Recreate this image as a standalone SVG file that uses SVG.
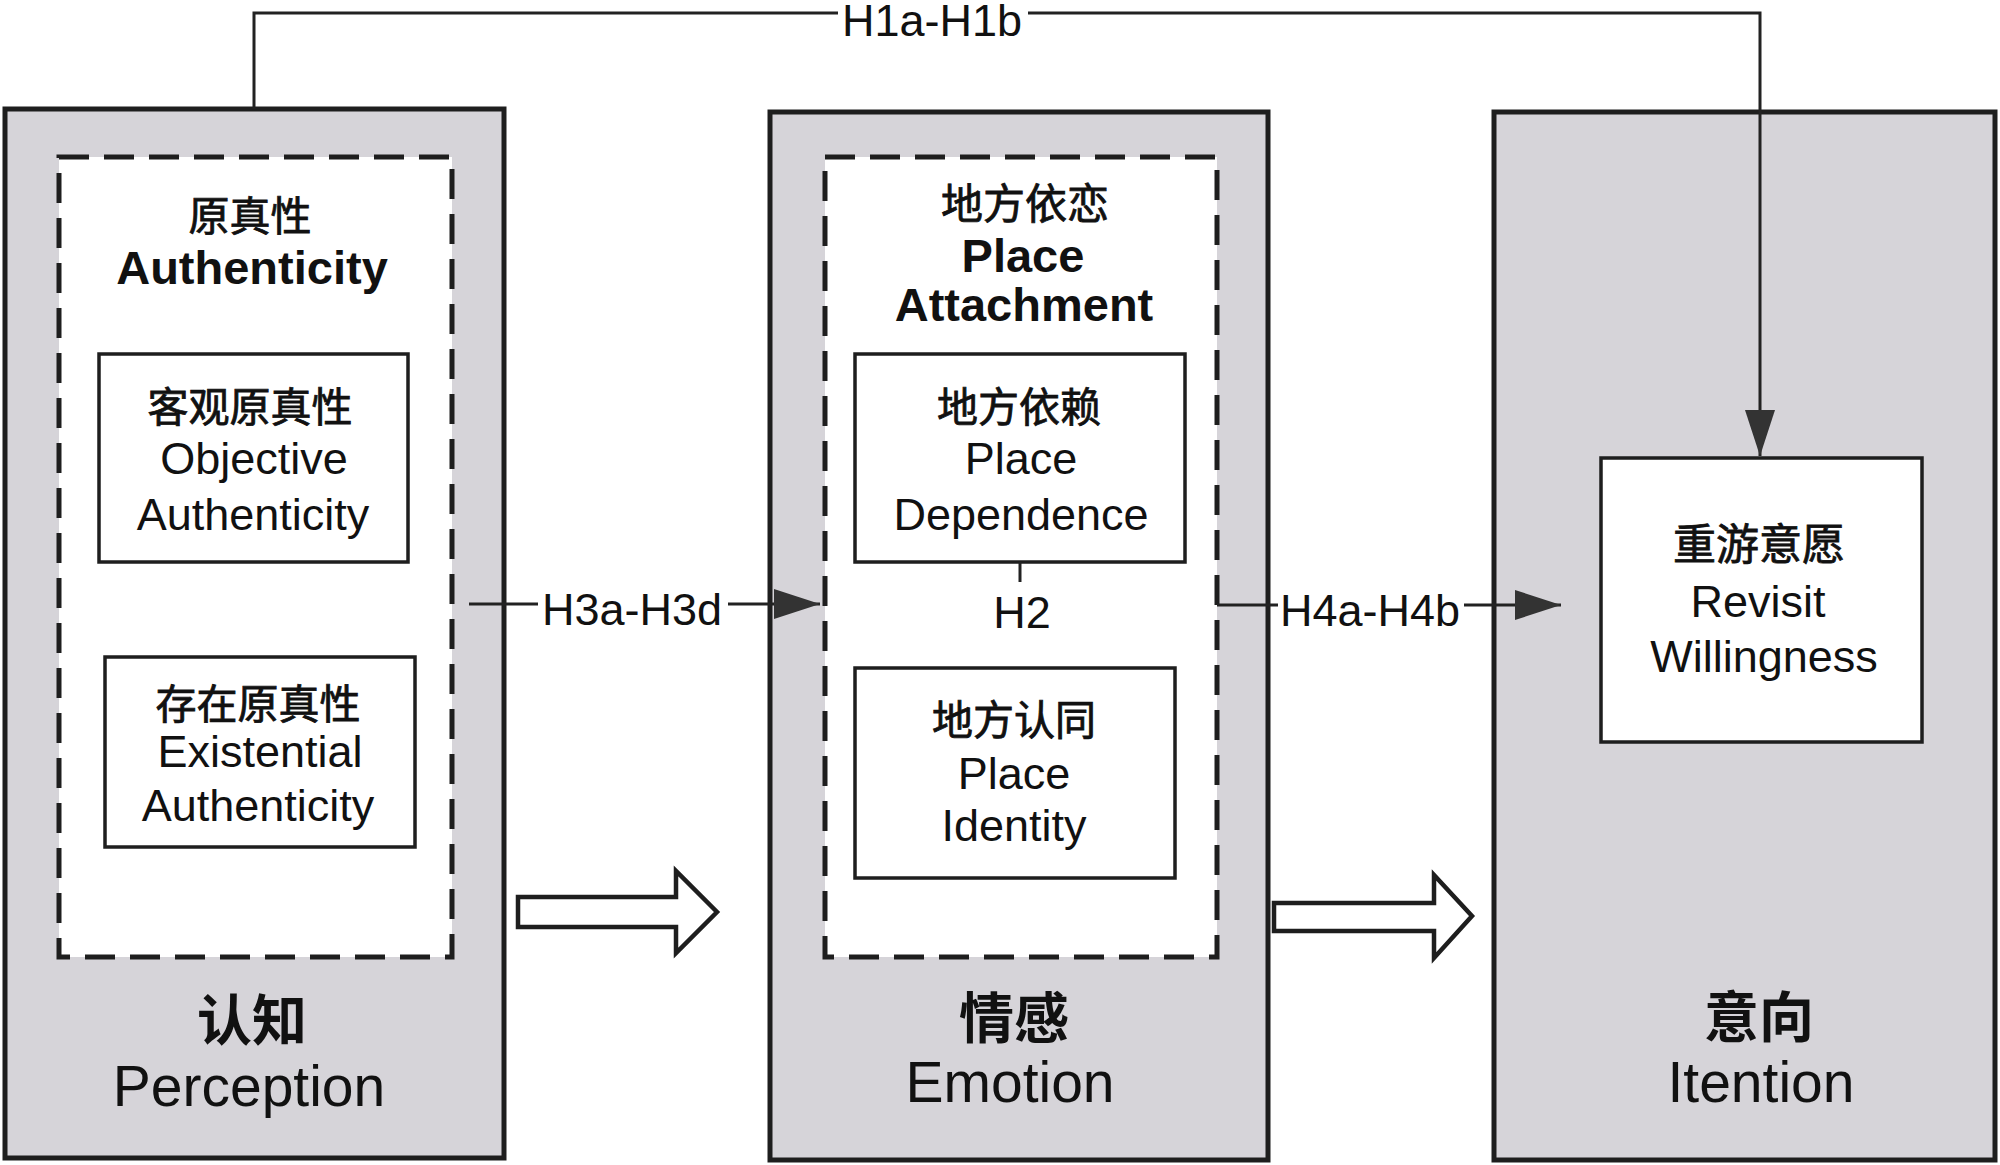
<svg xmlns="http://www.w3.org/2000/svg" width="2000" height="1165" viewBox="0 0 2000 1165">
<style>
.outer{fill:#d6d4d9;stroke:#1e1e1e;stroke-width:5}
.dash{fill:#ffffff;stroke:#1e1e1e;stroke-width:5;stroke-dasharray:30 15}
.inner{fill:#ffffff;stroke:#1e1e1e;stroke-width:3.5}
.line{fill:none;stroke:#222;stroke-width:3}
.block{fill:#ffffff;stroke:#1e1e1e;stroke-width:4.5;stroke-linejoin:miter}
text{font-family:"Liberation Sans","Noto Sans CJK SC",sans-serif;fill:#111;text-anchor:middle}
.cn{font-family:"Noto Sans CJK SC","Liberation Sans",sans-serif;font-size:41px;stroke:#111;stroke-width:0.8}
.en{font-size:45px}
.enb{font-size:47px;font-weight:bold}
.bcn{font-family:"Noto Sans CJK SC","Liberation Sans",sans-serif;font-size:55px;font-weight:bold}
.ben{font-size:57px}
.lbl{font-size:45px}
</style>
<defs>
<marker id="ah" viewBox="0 0 46 30" refX="46" refY="15" markerWidth="46" markerHeight="30" markerUnits="userSpaceOnUse" orient="auto">
<path d="M0,0 L46,15 L0,30 Z" fill="#333"/>
</marker>
</defs>

<g id="perception">
<rect class="outer" x="5" y="109" width="499" height="1049"/>
<rect class="dash" x="59" y="157" width="393" height="800"/>
<text class="cn" x="250" y="231">原真性</text>
<text class="enb" x="252" y="284">Authenticity</text>
<text class="bcn" x="252" y="1040">认知</text>
<text class="ben" x="249" y="1106">Perception</text>
</g>
<g id="objective">
<rect class="inner" x="99" y="354" width="309" height="208"/>
<text class="cn" x="250" y="422">客观原真性</text>
<text class="en" x="254" y="474">Objective</text>
<text class="en" x="253" y="530">Authenticity</text>
</g>
<g id="existential">
<rect class="inner" x="105" y="657" width="310" height="190"/>
<text class="cn" x="258" y="719">存在原真性</text>
<text class="en" x="260" y="767">Existential</text>
<text class="en" x="258" y="821">Authenticity</text>
</g>

<g id="emotion">
<rect class="outer" x="770" y="112" width="498" height="1048"/>
<rect class="dash" x="825" y="157" width="392" height="800"/>
<text class="cn" x="1025" y="219" style="font-size:42px">地方依恋</text>
<text class="enb" x="1023" y="272">Place</text>
<text class="enb" x="1024" y="321">Attachment</text>
<text class="bcn" x="1014" y="1038">情感</text>
<text class="ben" x="1010" y="1102">Emotion</text>
</g>
<g id="dependence">
<rect class="inner" x="855" y="354" width="330" height="208"/>
<text class="cn" x="1019" y="422">地方依赖</text>
<text class="en" x="1021" y="474">Place</text>
<text class="en" x="1021" y="530">Dependence</text>
</g>
<g id="identity">
<rect class="inner" x="855" y="668" width="320" height="210"/>
<text class="cn" x="1014" y="735">地方认同</text>
<text class="en" x="1014" y="789">Place</text>
<text class="en" x="1014" y="841">Identity</text>
</g>

<g id="intention">
<rect class="outer" x="1494" y="112" width="501" height="1048"/>
<text class="bcn" x="1759" y="1037">意向</text>
<text class="ben" x="1761" y="1102">Itention</text>
</g>
<g id="revisit">
<rect class="inner" x="1601" y="458" width="321" height="284"/>
<text class="cn" x="1759" y="560" style="font-size:43px">重游意愿</text>
<text class="en" x="1758" y="617">Revisit</text>
<text class="en" x="1764" y="672">Willingness</text>
</g>

<g id="connectors">
<path class="line" d="M254,109 V13 H1760 V456" marker-end="url(#ah)"/>
<rect x="838" y="0" width="190" height="42" fill="#ffffff"/>
<text class="lbl" x="932" y="36">H1a-H1b</text>
<path class="line" d="M469,604 H820" marker-end="url(#ah)"/>
<rect x="538" y="585" width="190" height="45" fill="#ffffff"/>
<text class="lbl" x="632" y="625">H3a-H3d</text>
<path class="line" d="M1217,605 H1561" marker-end="url(#ah)"/>
<rect x="1278" y="585" width="186" height="45" fill="#ffffff"/>
<text class="lbl" x="1370" y="626">H4a-H4b</text>
<path class="line" d="M1020,562 V582"/>
<text class="lbl" x="1022" y="628">H2</text>
<polygon class="block" points="518,897 676,897 676,871 717,912 676,953 676,927 518,927"/>
<polygon class="block" points="1274,903 1434,903 1434,875 1472,916 1434,958 1434,931 1274,931"/>
</g>
</svg>
